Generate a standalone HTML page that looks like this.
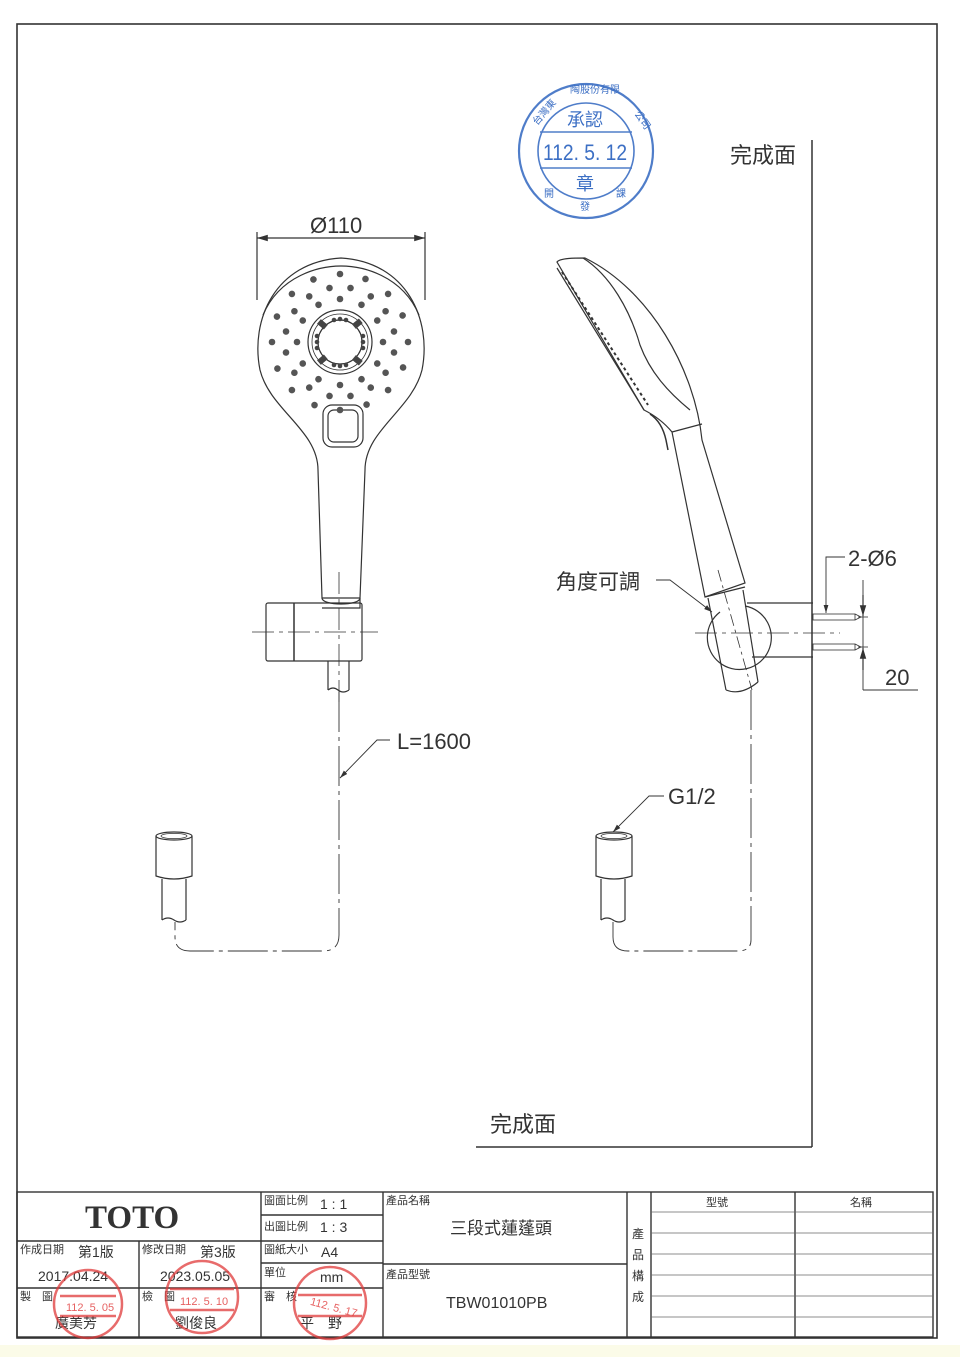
<!DOCTYPE html>
<html><head><meta charset="utf-8"><style>
html,body{margin:0;padding:0;background:#fff}
svg{display:block}
text{font-family:"Liberation Sans","Noto Sans CJK TC",sans-serif;fill:#333}
</style></head><body>
<svg width="960" height="1357" viewBox="0 0 960 1357" xmlns="http://www.w3.org/2000/svg">
<defs>
<marker id="ar" viewBox="0 0 10 10" refX="10" refY="5" markerWidth="9" markerHeight="9" orient="auto-start-reverse"><path d="M0,2 L10,5 L0,8 Z" fill="#333"/></marker>
<circle id="d" cx="0" cy="0" r="3.3" fill="#555"/>
</defs>
<rect x="0" y="0" width="960" height="1357" fill="#fff"/>
<rect x="0" y="1345" width="960" height="12" fill="#fbfbe8"/>
<rect x="17" y="24" width="920" height="1314" fill="none" stroke="#333" stroke-width="1.6"/>
<line x1="812" y1="140" x2="812" y2="1147" stroke="#333" stroke-width="1.5"/>
<line x1="476" y1="1147" x2="812" y2="1147" stroke="#333" stroke-width="1.5"/>
<text x="730" y="163" font-size="22">完成面</text>
<text x="490" y="1132" font-size="22">完成面</text>

<g fill="none" stroke="#333" stroke-width="1.2">
<line x1="257" y1="238" x2="425" y2="238" marker-start="url(#ar)" marker-end="url(#ar)"/>
<line x1="257" y1="232" x2="257" y2="300"/>
<line x1="425" y1="232" x2="425" y2="300"/>
<path d="M318,470 C318,430 270,410 260,370 C250,320 275,262 341,258 C407,262 432,320 422,370 C412,410 365,430 365,470 L360,598 L322,598 Z"/>
<path d="M263,315 C280,275 320,266 341,266 C362,266 402,275 419,315"/>
<rect x="323" y="405" width="40" height="42" rx="9"/>
<rect x="328" y="410" width="30" height="32" rx="6"/>
<circle cx="340" cy="342" r="32"/>
<circle cx="340" cy="342" r="22"/>
<circle cx="340" cy="342" r="28" stroke-width="0.8"/>
<path d="M322,598 C322,606 360,606 360,598 L360,608 L322,608"/>
<rect x="266" y="603" width="96" height="58" rx="2"/>
<line x1="294" y1="603" x2="294" y2="661" stroke-width="1.5"/>
<path d="M328,661 L328,690 M349,661 L349,690 M328,690 q5,-4 10,0 q5,4 11,0"/>
<line x1="252" y1="632" x2="378" y2="632" stroke-width="0.8" stroke-dasharray="22,5,4,5"/>
<line x1="339" y1="572" x2="339" y2="705" stroke-width="0.8" stroke-dasharray="22,5,4,5"/>
<path d="M339,692 L339,935 Q339,951 323,951 L190,951 Q175,951 175,937 L175,922" stroke-width="0.9" stroke-dasharray="40,5,4,5"/>
<ellipse cx="174" cy="836" rx="18" ry="4"/>
<ellipse cx="174" cy="836" rx="13" ry="2.6" stroke-width="0.8"/>
<path d="M156,836 L156,876 Q174,882 192,876 L192,836"/>
<path d="M162,879 L162,920 M186,879 L186,920 M162,920 q6,-4 12,0 q6,4 12,0"/>
<polyline points="390,740 377,740 340,778" marker-end="url(#ar)" stroke-width="0.9"/>

<path d="M557,262 C560,258 575,258 585,258 C650,290 695,370 702,440 L745,583 L705,597 L672,432 C662,420 652,414 644,410 Z"/>
<path d="M583,258 C610,275 630,310 640,345 C650,372 668,392 690,410"/>
<path d="M557,268 L644,410"/>
<path d="M562,272 L648,405" stroke-dasharray="3,3" stroke-width="2"/>
<path d="M650,414 Q662,422 666,440 L668,450" stroke-width="1.5"/>
<path d="M672,432 L702,424"/>
<path d="M705,597 L745,587"/>
<path d="M708,598 L726,690 M743,590 L758,682"/>
<path d="M726,690 q15,6 32,-8"/>
<path d="M720,612 A32,32 0 1,0 745,606"/>
<line x1="747" y1="603" x2="813" y2="603"/>
<line x1="752" y1="657" x2="813" y2="657"/>
<line x1="695" y1="633" x2="840" y2="633" stroke-width="0.8" stroke-dasharray="22,5,4,5"/>
<line x1="718" y1="570" x2="752" y2="690" stroke-width="0.8" stroke-dasharray="12,4,3,4"/>
<path d="M751,690 L751,940 Q751,951 738,951 L628,951 Q613,951 613,937 L613,922" stroke-width="0.9" stroke-dasharray="40,5,4,5"/>
<rect x="813" y="614" width="42" height="6" stroke-width="0.8"/>
<rect x="813" y="644" width="42" height="6" stroke-width="0.8"/>
<path d="M855,614 L861,617 L855,620 M855,644 L861,647 L855,650" stroke-width="0.8"/>
<line x1="863" y1="580" x2="863" y2="690" stroke-width="0.9"/>
<line x1="858" y1="617" x2="868" y2="617" stroke-width="0.8"/>
<line x1="858" y1="647" x2="868" y2="647" stroke-width="0.8"/>
<line x1="863" y1="595" x2="863" y2="616" marker-end="url(#ar)"/>
<line x1="863" y1="670" x2="863" y2="648" marker-end="url(#ar)"/>
<line x1="863" y1="690" x2="918" y2="690" stroke-width="0.9"/>
<polyline points="845,557 826,557 826,613" marker-end="url(#ar)" stroke-width="0.9"/>
<polyline points="656,580 670,580 712,612" marker-end="url(#ar)" stroke-width="0.9"/>
<ellipse cx="614" cy="836" rx="18" ry="4"/>
<ellipse cx="614" cy="836" rx="13" ry="2.6" stroke-width="0.8"/>
<path d="M596,836 L596,876 Q614,882 632,876 L632,836"/>
<path d="M601,879 L601,920 M625,879 L625,920 M601,920 q6,-4 12,0 q6,4 12,0"/>
<polyline points="664,796 649,796 613,832" marker-end="url(#ar)" stroke-width="0.9"/>
</g>
<g>
<use href="#d" transform="translate(340,342) rotate(0) translate(0,-68)"/><use href="#d" transform="translate(340,342) rotate(22) translate(0,-68)"/><use href="#d" transform="translate(340,342) rotate(45) translate(0,-68)"/><use href="#d" transform="translate(340,342) rotate(67) translate(0,-68)"/><use href="#d" transform="translate(340,342) rotate(90) translate(0,-68)"/><use href="#d" transform="translate(340,342) rotate(112) translate(0,-68)"/><use href="#d" transform="translate(340,342) rotate(135) translate(0,-68)"/><use href="#d" transform="translate(340,342) rotate(157) translate(0,-68)"/><use href="#d" transform="translate(340,342) rotate(180) translate(0,-68)"/><use href="#d" transform="translate(340,342) rotate(202) translate(0,-68)"/><use href="#d" transform="translate(340,342) rotate(225) translate(0,-68)"/><use href="#d" transform="translate(340,342) rotate(247) translate(0,-68)"/><use href="#d" transform="translate(340,342) rotate(270) translate(0,-68)"/><use href="#d" transform="translate(340,342) rotate(292) translate(0,-68)"/><use href="#d" transform="translate(340,342) rotate(315) translate(0,-68)"/><use href="#d" transform="translate(340,342) rotate(337) translate(0,-68)"/>
<use href="#d" transform="translate(340,342) rotate(11) translate(0,-55)"/><use href="#d" transform="translate(340,342) rotate(34) translate(0,-55)"/><use href="#d" transform="translate(340,342) rotate(56) translate(0,-55)"/><use href="#d" transform="translate(340,342) rotate(79) translate(0,-55)"/><use href="#d" transform="translate(340,342) rotate(101) translate(0,-55)"/><use href="#d" transform="translate(340,342) rotate(124) translate(0,-55)"/><use href="#d" transform="translate(340,342) rotate(146) translate(0,-55)"/><use href="#d" transform="translate(340,342) rotate(169) translate(0,-55)"/><use href="#d" transform="translate(340,342) rotate(191) translate(0,-55)"/><use href="#d" transform="translate(340,342) rotate(214) translate(0,-55)"/><use href="#d" transform="translate(340,342) rotate(236) translate(0,-55)"/><use href="#d" transform="translate(340,342) rotate(259) translate(0,-55)"/><use href="#d" transform="translate(340,342) rotate(281) translate(0,-55)"/><use href="#d" transform="translate(340,342) rotate(304) translate(0,-55)"/><use href="#d" transform="translate(340,342) rotate(326) translate(0,-55)"/><use href="#d" transform="translate(340,342) rotate(349) translate(0,-55)"/>
<use href="#d" transform="translate(340,342) rotate(0) translate(0,-43)"/><use href="#d" transform="translate(340,342) rotate(30) translate(0,-43)"/><use href="#d" transform="translate(340,342) rotate(60) translate(0,-43)"/><use href="#d" transform="translate(340,342) rotate(90) translate(0,-43)"/><use href="#d" transform="translate(340,342) rotate(120) translate(0,-43)"/><use href="#d" transform="translate(340,342) rotate(150) translate(0,-43)"/><use href="#d" transform="translate(340,342) rotate(180) translate(0,-43)"/><use href="#d" transform="translate(340,342) rotate(210) translate(0,-43)"/><use href="#d" transform="translate(340,342) rotate(240) translate(0,-43)"/><use href="#d" transform="translate(340,342) rotate(270) translate(0,-43)"/><use href="#d" transform="translate(340,342) rotate(300) translate(0,-43)"/><use href="#d" transform="translate(340,342) rotate(330) translate(0,-43)"/>
<g fill="#444"><circle cx="334" cy="320" r="2.3"/><circle cx="340" cy="319" r="2.3"/><circle cx="346" cy="320" r="2.3"/><circle cx="334" cy="365" r="2.3"/><circle cx="340" cy="366" r="2.3"/><circle cx="346" cy="365" r="2.3"/><circle cx="317" cy="336" r="2.3"/><circle cx="317" cy="342" r="2.3"/><circle cx="317" cy="348" r="2.3"/><circle cx="363" cy="336" r="2.3"/><circle cx="363" cy="342" r="2.3"/><circle cx="363" cy="348" r="2.3"/>
<rect x="318" y="321" width="9" height="6" transform="rotate(40 322 324)"/><rect x="353" y="321" width="9" height="6" transform="rotate(-40 357 324)"/><rect x="318" y="357" width="9" height="6" transform="rotate(-40 322 360)"/><rect x="353" y="357" width="9" height="6" transform="rotate(40 357 360)"/></g>
</g>

<text x="310" y="233" font-size="22">Ø110</text>
<text x="397" y="749" font-size="22">L=1600</text>
<text x="668" y="804" font-size="22">G1/2</text>
<text x="556" y="589" font-size="21">角度可調</text>
<text x="848" y="566" font-size="22">2-Ø6</text>
<text x="885" y="685" font-size="22">20</text>

<g fill="none" stroke="#3c6fc4" stroke-width="2.2" opacity="0.9">
<circle cx="586" cy="151" r="67"/>
<circle cx="586" cy="151" r="48" stroke-width="1.6"/>
<line x1="540" y1="132" x2="632" y2="132" stroke-width="1.4"/>
<line x1="540" y1="168" x2="632" y2="168" stroke-width="1.4"/>
</g>
<g>
<text x="567" y="126" font-size="18" style="fill:#3c6fc4">承認</text>
<text x="543" y="160" font-size="22" textLength="84" lengthAdjust="spacingAndGlyphs" style="fill:#3c6fc4">112. 5. 12</text>
<text x="576" y="190" font-size="18" style="fill:#3c6fc4">章</text>
<text x="533" y="123" font-size="10" style="fill:#3c6fc4" transform="rotate(-50 538 120)">台灣東</text>
<text x="570" y="93" font-size="10" style="fill:#3c6fc4">陶股份有限</text>
<text x="634" y="118" font-size="10" style="fill:#3c6fc4" transform="rotate(55 638 116)">公司</text>
<text x="544" y="197" font-size="10" style="fill:#3c6fc4">開</text>
<text x="580" y="210" font-size="10" style="fill:#3c6fc4">發</text>
<text x="616" y="197" font-size="10" style="fill:#3c6fc4">課</text>
</g>

<g fill="none" stroke="#333" stroke-width="1.4">
<rect x="17" y="1192" width="916" height="145"/>
<line x1="261" y1="1192" x2="261" y2="1337"/>
<line x1="383" y1="1192" x2="383" y2="1337"/>
<line x1="627" y1="1192" x2="627" y2="1337"/>
<line x1="651" y1="1192" x2="651" y2="1337"/>
<line x1="795" y1="1192" x2="795" y2="1337"/>
<line x1="17" y1="1241" x2="261" y2="1241"/>
<line x1="17" y1="1288" x2="383" y2="1288"/>
<line x1="139" y1="1241" x2="139" y2="1337"/>
<line x1="261" y1="1215" x2="383" y2="1215"/>
<line x1="261" y1="1241" x2="383" y2="1241"/>
<line x1="261" y1="1263" x2="383" y2="1263"/>
<line x1="383" y1="1264" x2="627" y2="1264"/>
<g stroke-width="0.8" stroke="#666"><line x1="651" y1="1212" x2="933" y2="1212"/><line x1="651" y1="1233" x2="933" y2="1233"/><line x1="651" y1="1254" x2="933" y2="1254"/><line x1="651" y1="1275" x2="933" y2="1275"/><line x1="651" y1="1296" x2="933" y2="1296"/><line x1="651" y1="1317" x2="933" y2="1317"/></g>
</g>
<text x="85" y="1228" font-size="33" font-weight="bold" style="font-family:'Liberation Serif',serif;fill:#333">TOTO</text>
<g font-size="11"><text x="20" y="1253">作成日期</text><text x="142" y="1253">修改日期</text><text x="264" y="1204">圖面比例</text><text x="264" y="1230">出圖比例</text><text x="264" y="1253">圖紙大小</text><text x="264" y="1276">單位</text><text x="20" y="1300">製　圖</text><text x="142" y="1300">檢　圖</text><text x="264" y="1300">審　核</text><text x="386" y="1204">產品名稱</text><text x="386" y="1278">產品型號</text><text x="706" y="1206">型號</text><text x="850" y="1206">名稱</text></g>
<g font-size="14"><text x="78" y="1257">第1版</text><text x="200" y="1257">第3版</text><text x="320" y="1209">1 : 1</text><text x="320" y="1232">1 : 3</text><text x="321" y="1257">A4</text><text x="320" y="1282">mm</text><text x="38" y="1281">2017.04.24</text><text x="160" y="1281">2023.05.05</text><text x="55" y="1328">廣美芳</text><text x="175" y="1328">劉俊良</text><text x="300" y="1328">平　野</text></g>
<text x="450" y="1234" font-size="17">三段式蓮蓬頭</text>
<text x="446" y="1308" font-size="16">TBW01010PB</text>
<g font-size="12"><text x="632" y="1238">產</text><text x="632" y="1259">品</text><text x="632" y="1280">構</text><text x="632" y="1301">成</text></g>
<g fill="none" stroke="#e03a3a" stroke-width="2.5" opacity="0.75">
<circle cx="88" cy="1304" r="34"/><line x1="60" y1="1296" x2="116" y2="1296"/><line x1="60" y1="1316" x2="116" y2="1316"/>
<circle cx="202" cy="1297" r="36"/><line x1="170" y1="1289" x2="234" y2="1289"/><line x1="170" y1="1310" x2="234" y2="1310"/>
<circle cx="330" cy="1303" r="36"/><line x1="298" y1="1295" x2="362" y2="1295"/><line x1="298" y1="1316" x2="362" y2="1316"/>
</g>
<g font-size="11" opacity="0.8"><text x="66" y="1311" style="fill:#e03a3a">112. 5. 05</text><text x="180" y="1305" style="fill:#e03a3a">112. 5. 10</text><text x="310" y="1310" style="fill:#e03a3a" transform="rotate(15 330 1306)">112. 5. 17</text></g>
</svg>
</body></html>
